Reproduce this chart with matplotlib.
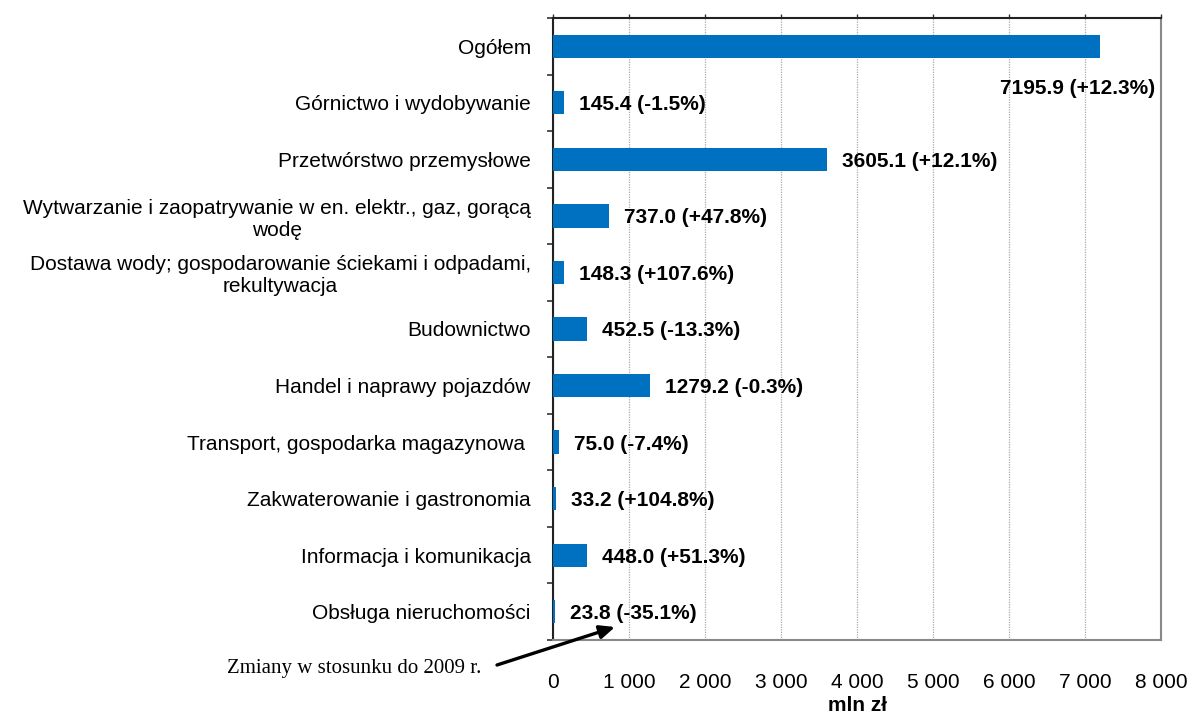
import matplotlib.pyplot as plt
import numpy as np

# dane z wykresu
kategorie = ['Ogółem',
             'Górnictwo i wydobywanie',
             'Przetwórstwo przemysłowe',
             'Wytwarzanie i zaopatrywanie w en. elektr., gaz, gorącą\nwodę',
             'Dostawa wody; gospodarowanie ściekami i odpadami,\nrekultywacja',
             'Budownictwo',
             'Handel i naprawy pojazdów',
             'Transport, gospodarka magazynowa ',
             'Zakwaterowanie i gastronomia',
             'Informacja i komunikacja',
             'Obsługa nieruchomości']
wartosci = [7195.9, 145.4, 3605.1, 737.0, 148.3, 452.5, 1279.2, 75.0, 33.2, 448.0, 23.8]
zmiany = ['+12.3', '-1.5', '+12.1', '+47.8', '+107.6', '-13.3', '-0.3', '-7.4', '+104.8', '+51.3', '-35.1']
ticks_x = [0, 1000, 2000, 3000, 4000, 5000, 6000, 7000, 8000]
ticks_lab = ['0', '1 000', '2 000', '3 000', '4 000', '5 000', '6 000', '7 000', '8 000']

plt.rcParams['font.family'] = ['Liberation Sans', 'DejaVu Sans']
niebieski = '#0070C0'

fig = plt.figure(figsize=(11.9, 7.18), dpi=100)
ax = fig.add_axes([553 / 1190, 1 - 640 / 718, 608 / 1190, 622 / 718])

n = len(kategorie)
y = np.arange(n)
ax.barh(y, wartosci, height=0.41, color=niebieski, zorder=3)
ax.set_ylim(n - 0.5, -0.5)
ax.set_xlim(0, 8000)

# etykiety wartosci
for i in range(n):
    txt = f'{wartosci[i]:.1f} ({zmiany[i]}%)'
    if i == 0:
        ax.annotate(txt, (wartosci[i], i), xytext=(55, -42), textcoords='offset pixels',
                    ha='right', va='center', fontsize=15, fontweight='bold', zorder=4)
    else:
        ax.annotate(txt, (wartosci[i], i), xytext=(15, -2), textcoords='offset pixels',
                    ha='left', va='center', fontsize=15, fontweight='bold', zorder=4)

# os y
ax.set_yticks(y)
ax.set_yticklabels(kategorie, fontsize=15, multialignment='center')
ax.set_yticks(np.arange(n + 1) - 0.5, minor=True)
ax.tick_params(axis='y', which='major', length=0, pad=16)
ax.tick_params(axis='y', which='minor', length=4.3, width=1.2, color='#333333', direction='out')

# os x
ax.set_xticks(ticks_x)
ax.set_xticklabels(ticks_lab, fontsize=15)
ax.tick_params(axis='x', top=True, bottom=False, labeltop=False, labelbottom=True,
               length=3, width=1, color='#333333', pad=20.5)
ax.xaxis.grid(True, color='#aaaaaa', linestyle=(0, (1, 1)), linewidth=0.9, zorder=0)
ax.set_xlabel('mln zł', fontsize=15, fontweight='bold', labelpad=3)

for s in ['top', 'left']:
    ax.spines[s].set_color('#222222')
    ax.spines[s].set_linewidth(1.5)
for s in ['bottom', 'right']:
    ax.spines[s].set_color('#888888')
    ax.spines[s].set_linewidth(1.5)

# adnotacja
fig.text(227 / 1190, 1 - 668 / 718, 'Zmiany w stosunku do 2009 r.', ha='left', va='center',
         fontsize=15, family=['Liberation Serif', 'DejaVu Serif'])
ax.annotate('', xy=(615 / 1190, 1 - 627 / 718), xycoords='figure fraction',
            xytext=(497 / 1190, 1 - 665 / 718), textcoords='figure fraction',
            arrowprops=dict(arrowstyle='-|>,head_length=0.9,head_width=0.4', color='black', lw=2.4,
                            shrinkA=0, shrinkB=0),
            annotation_clip=False)

fig.savefig('out.png', dpi=100)
